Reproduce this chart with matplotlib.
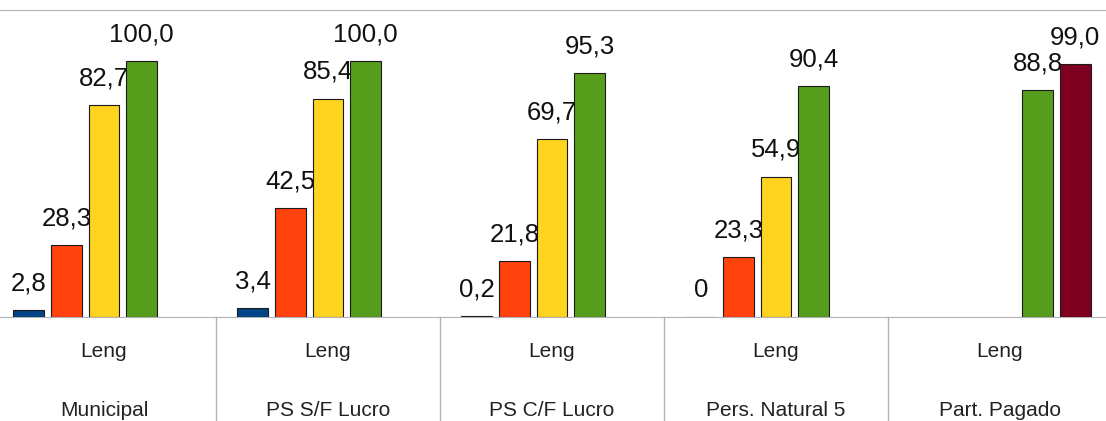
import numpy as np
import matplotlib
matplotlib.use("Agg")
import matplotlib.pyplot as plt
import matplotlib.transforms as mtransforms

# Data
categories = ["Municipal", "PS S/F Lucro", "PS C/F Lucro", "Pers. Natural 5", "Part. Pagado"]
sublabel = "Leng"
blue = [2.8, 3.4, 0.2, 0.0, np.nan]
red = [28.3, 42.5, 21.8, 23.3, np.nan]
yellow = [82.7, 85.4, 69.7, 54.9, np.nan]
green = [100.0, 100.0, 95.3, 90.4, 88.8]
darkred = [np.nan, np.nan, np.nan, np.nan, 99.0]

series = [blue, red, yellow, green, darkred]
colors = ["#004586", "#ff420e", "#ffd320", "#579d1c", "#7e0021"]

plt.rcParams['font.family'] = ['Liberation Sans', 'DejaVu Sans']

fig = plt.figure(figsize=(11.06, 4.21), dpi=100)
ax = fig.add_axes([0, 104 / 421, 1, 307 / 421])

x = np.arange(len(categories))
step = 0.168
width = 0.138
for k, (vals, col) in enumerate(zip(series, colors)):
    pos = x + (k - 2) * step
    v = np.array(vals, dtype=float)
    ok = ~np.isnan(v)
    ax.bar(pos[ok], v[ok], width=width, color=col, edgecolor="#1a1a1a", linewidth=0.8, zorder=3)
    for p, val in zip(pos[ok], v[ok]):
        txt = "0" if val == 0 else f"{val:.1f}".replace(".", ",")
        ax.annotate(txt, (p, val), xytext=(0, 10.5), textcoords="offset points",
                    ha="center", va="bottom", fontsize=18.5, color="#111111")

ax.set_xlim(-104 / 224, (1106 - 104) / 224)
ax.set_ylim(0, 120)
ax.set_xticks([])
ax.set_yticks([])
for s in ["left", "right"]:
    ax.spines[s].set_visible(False)
ax.spines["bottom"].set_color("#b3b3b3")
ax.spines["top"].set_color("#b3b3b3")

# separators and labels under the axis
trans = mtransforms.blended_transform_factory(ax.transData, ax.transAxes)
for b in x[:-1] + 0.5:
    ax.plot([b, b], [0, -0.36], transform=trans, color="#b3b3b3", lw=1, clip_on=False)
for i, cat in enumerate(categories):
    ax.text(i, -0.114, sublabel, transform=trans, ha="center", va="center", fontsize=15, color="#222222")
    ax.text(i, -0.303, cat, transform=trans, ha="center", va="center", fontsize=15, color="#222222")

fig.savefig("out.png", dpi=100)
